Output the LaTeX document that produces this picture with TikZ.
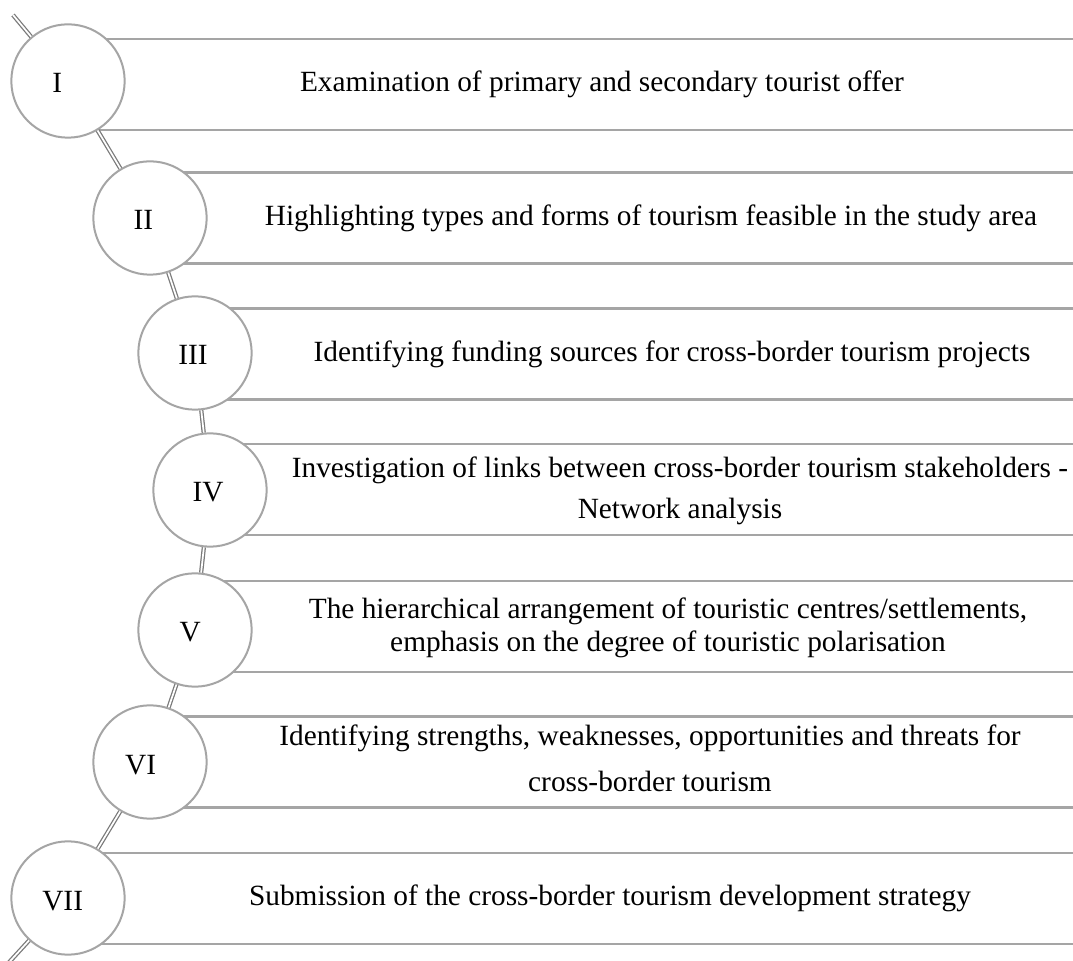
\documentclass[tikz,border=0pt]{standalone}
\usepackage{fontspec}
\setmainfont{Liberation Serif}
\definecolor{ringgray}{HTML}{A5A5A5}
\definecolor{linkgray}{HTML}{7A7A7A}

\begin{document}
\begin{tikzpicture}[x=0.75pt, y=0.75pt,
    stage/.style={circle, draw=ringgray, line width=1.5pt, fill=white,
        minimum size=85pt, inner sep=0pt, text height=18pt, text depth=0pt,
        font=\fontsize{22}{26}\selectfont},
    band/.style={draw=ringgray, line width=1.6pt},
    link/.style={draw=linkgray, double=white, double distance=1.3pt, line width=0.95pt},
    task/.style={align=center, inner sep=0pt, font=\fontsize{22}{26}\selectfont}
]
    \useasboundingbox (0,0) rectangle (1073,960);
    % bands behind the circles
    \draw[band] (68,920.9) -- (1073,920.9);
    \draw[band] (68,829.9) -- (1073,829.9);
    \draw[band] (150,787.5) -- (1073,787.5);
    \draw[band] (150,696.5) -- (1073,696.5);
    \draw[band] (195,651.5) -- (1073,651.5);
    \draw[band] (195,560.5) -- (1073,560.5);
    \draw[band] (210,516) -- (1073,516);
    \draw[band] (210,425) -- (1073,425);
    \draw[band] (195,379) -- (1073,379);
    \draw[band] (195,288) -- (1073,288);
    \draw[band] (150,243.5) -- (1073,243.5);
    \draw[band] (150,152.5) -- (1073,152.5);
    \draw[band] (68,107) -- (1073,107);
    \draw[band] (68,16) -- (1073,16);
    % stages
    \node[stage] (I) at (68,879) {\hspace*{-16pt}I};
    \node[stage] (II) at (150,742) {\hspace*{-10pt}II};
    \node[stage] (III) at (195,607) {\hspace*{-3pt}III};
    \node[stage] (IV) at (210,470) {\hspace*{-3pt}IV};
    \node[stage] (V) at (195,330) {\hspace*{-7pt}V};
    \node[stage] (VI) at (150,198) {\hspace*{-14pt}VI};
    \node[stage] (VII) at (68,62) {\hspace*{-8pt}VII};
    % texts
    \node[task] (tI) at (602,875.4) {Examination of primary and secondary tourist offer};
    \node[task] (tII) at (651,742) {Highlighting types and forms of tourism feasible in the study area};
    \node[task] (tIII) at (672,606) {Identifying funding sources for cross-border tourism projects};
    \node[task, font=\fontsize{22}{30.75}\selectfont] (tIV) at (680,469.3)
        {Investigation of links between cross-border tourism stakeholders -\\Network analysis};
    \node[task, font=\fontsize{22}{24.75}\selectfont] (tV) at (668,332.3)
        {The hierarchical arrangement of touristic centres/settlements,\\emphasis on the degree of touristic polarisation};
    \node[task, font=\fontsize{22}{34.5}\selectfont] (tVI) at (650,202)
        {Identifying strengths, weaknesses, opportunities and threats for\\cross-border tourism};
    \node[task] (tVII) at (610,61.5) {Submission of the cross-border tourism development strategy};
    % curved spine
    \coordinate (top) at (13,945);
    \coordinate (bot) at (2,-10);
    \draw[link] (top) -- (I) -- (II) -- (III) -- (IV) -- (V) -- (VI) -- (VII) -- (bot);
\end{tikzpicture}
\end{document}
